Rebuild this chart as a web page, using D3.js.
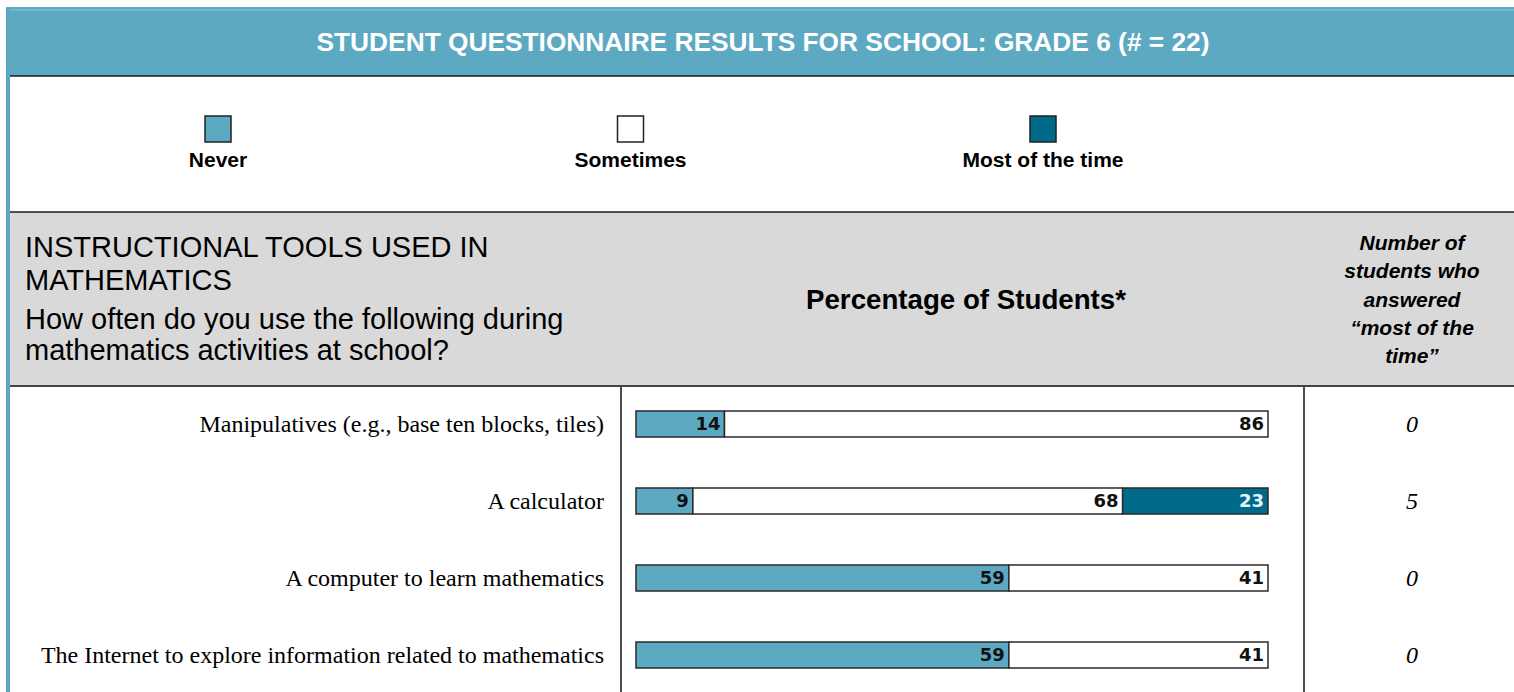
<!DOCTYPE html>
<html>
<head>
<meta charset="utf-8">
<script src="https://cdn.jsdelivr.net/npm/d3@7"></script>
<style>
  html, body { margin: 0; padding: 0; background: #fff; }
  svg { display: block; }
</style>
</head>
<body>
<svg id="chart" width="1514" height="692"></svg>
<script>
// Questionnaire responses, grade 6 (# = 22)
const titleText = "STUDENT QUESTIONNAIRE RESULTS FOR SCHOOL: GRADE 6 (# = 22)";
const categories = ["Never", "Sometimes", "Most of the time"];
const items = [
  "Manipulatives (e.g., base ten blocks, tiles)",
  "A calculator",
  "A computer to learn mathematics",
  "The Internet to explore information related to mathematics"
];
const never = [14, 9, 59, 59];
const sometimes = [86, 68, 41, 41];
const mostOfTheTime = [0, 23, 0, 0];
const mostCounts = [0, 5, 0, 0];

const headingLines = ["INSTRUCTIONAL TOOLS USED IN", "MATHEMATICS"];
const questionLines = ["How often do you use the following during", "mathematics activities at school?"];
const countHeaderLines = ["Number of", "students who", "answered", "\u201cmost of the", "time\u201d"];

const W = 1514, H = 692;
const colors = { "Never": "#5da9c2", "Sometimes": "#ffffff", "Most of the time": "#006a8b" };
const labelColors = { "Never": "#111", "Sometimes": "#111", "Most of the time": "#e6f4f7" };
const sans = "'Liberation Sans', Arial, Helvetica, sans-serif";
const serif = "'Liberation Serif', 'Times New Roman', serif";
const barFont = "'DejaVu Sans', Verdana, sans-serif";

const svg = d3.select("#chart");

// ---- Title band ----
svg.append("rect").attr("x", 6).attr("y", 7).attr("width", W - 6).attr("height", 69)
  .attr("fill", colors["Never"]);
svg.append("line").attr("x1", 6).attr("x2", W).attr("y1", 10).attr("y2", 10)
  .attr("stroke", "#8cc3d5").attr("stroke-width", 1);
svg.append("text").attr("x", 763).attr("y", 51).attr("text-anchor", "middle")
  .attr("fill", "#fff").attr("font-family", sans).attr("font-weight", "bold")
  .attr("font-size", 26.3).text(titleText);

// Left edge strip
svg.append("rect").attr("x", 6).attr("y", 7).attr("width", 4).attr("height", H - 7)
  .attr("fill", colors["Never"]);
svg.append("line").attr("x1", 10).attr("x2", W).attr("y1", 76).attr("y2", 76)
  .attr("stroke", "#1a1a1a").attr("stroke-width", 1.5);

// ---- Legend ----
const legendX = d3.scalePoint().domain(categories).range([218, 1043]);
const legend = svg.append("g").selectAll("g").data(categories).join("g")
  .attr("transform", d => `translate(${legendX(d)},0)`);
legend.append("rect").attr("x", -13).attr("y", 116).attr("width", 26).attr("height", 26)
  .attr("fill", d => colors[d]).attr("stroke", "#222").attr("stroke-width", 1.5);
legend.append("text").attr("y", 167).attr("text-anchor", "middle")
  .attr("font-family", sans).attr("font-weight", "bold").attr("font-size", 21)
  .attr("fill", "#000").text(d => d);

// ---- Grey header band ----
svg.append("rect").attr("x", 10).attr("y", 212).attr("width", W - 10).attr("height", 174)
  .attr("fill", "#d9d9d9");
svg.append("line").attr("x1", 10).attr("x2", W).attr("y1", 212).attr("y2", 212)
  .attr("stroke", "#1a1a1a").attr("stroke-width", 1.5);
svg.append("line").attr("x1", 10).attr("x2", W).attr("y1", 386).attr("y2", 386)
  .attr("stroke", "#444").attr("stroke-width", 2);

const headText = svg.append("g").attr("font-family", sans).attr("font-size", 29).attr("fill", "#000");
headText.selectAll("text.h").data(headingLines).join("text").attr("class", "h")
  .attr("x", 25).attr("y", (d, i) => 257 + i * 33).text(d => d);
headText.selectAll("text.q").data(questionLines).join("text").attr("class", "q")
  .attr("x", 25).attr("y", (d, i) => 329 + i * 31).text(d => d);

svg.append("text").attr("x", 966).attr("y", 309).attr("text-anchor", "middle")
  .attr("font-family", sans).attr("font-weight", "bold").attr("font-size", 27.7)
  .attr("fill", "#000").text("Percentage of Students*");

svg.append("g").selectAll("text").data(countHeaderLines).join("text")
  .attr("x", 1412).attr("y", (d, i) => 250 + i * 28.3).attr("text-anchor", "middle")
  .attr("font-family", sans).attr("font-weight", "bold").attr("font-style", "italic")
  .attr("font-size", 21).attr("fill", "#000").text(d => d);

// ---- Column dividers ----
[621, 1304].forEach(x => {
  svg.append("line").attr("x1", x).attr("x2", x).attr("y1", 387).attr("y2", H)
    .attr("stroke", "#111").attr("stroke-width", 1.5);
});

// ---- Stacked bars ----
const x = d3.scaleLinear().domain([0, 100]).range([636, 1268]);
const y = d3.scalePoint().domain(items).range([424, 655]);
const barH = 26;

const rows = items.map((item, i) => ({
  item,
  "Never": never[i],
  "Sometimes": sometimes[i],
  "Most of the time": mostOfTheTime[i],
  count: mostCounts[i]
}));
const stacked = d3.stack().keys(categories)(rows);

const segs = [];
stacked.forEach(layer => {
  layer.forEach(s => {
    const v = s[1] - s[0];
    if (v > 0) segs.push({ key: layer.key, item: s.data.item, x0: s[0], x1: s[1], value: v });
  });
});

const bars = svg.append("g");
bars.selectAll("rect").data(segs).join("rect")
  .attr("x", d => x(d.x0)).attr("y", d => y(d.item) - barH / 2)
  .attr("width", d => x(d.x1) - x(d.x0)).attr("height", barH)
  .attr("fill", d => colors[d.key]).attr("stroke", "#2a2a2a").attr("stroke-width", 1.5);
bars.selectAll("text").data(segs).join("text")
  .attr("x", d => x(d.x1) - 4).attr("y", d => y(d.item)).attr("dy", "0.36em")
  .attr("text-anchor", "end").attr("font-family", barFont).attr("font-weight", "bold")
  .attr("font-size", 18).attr("fill", d => labelColors[d.key])
  .text(d => d3.format("d")(d.value));

// ---- Row labels ----
svg.append("g").selectAll("text").data(items).join("text")
  .attr("x", 604).attr("y", d => y(d)).attr("dy", "0.33em").attr("text-anchor", "end")
  .attr("font-family", serif).attr("font-size", 24).attr("fill", "#000").text(d => d);

// ---- "Most of the time" counts ----
svg.append("g").selectAll("text").data(rows).join("text")
  .attr("x", 1412).attr("y", d => y(d.item)).attr("dy", "0.33em").attr("text-anchor", "middle")
  .attr("font-family", serif).attr("font-style", "italic").attr("font-size", 24)
  .attr("fill", "#000").text(d => d.count);
</script>
</body>
</html>
